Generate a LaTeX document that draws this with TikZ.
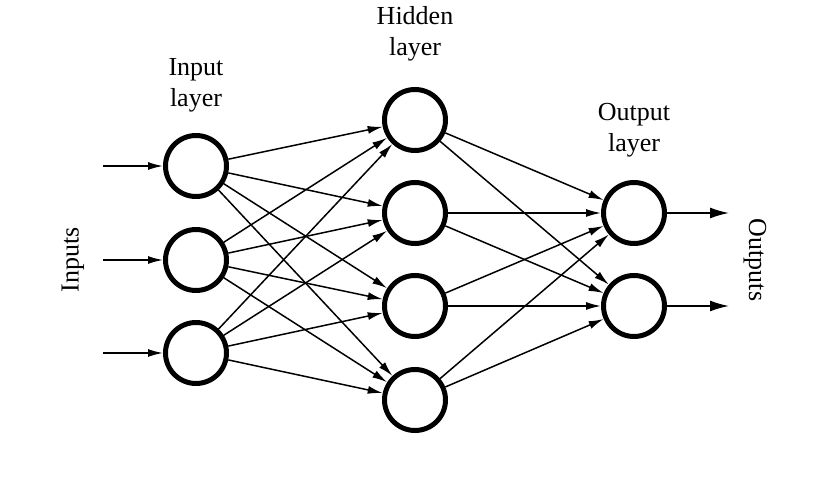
\documentclass[tikz,border=0pt]{standalone}
\usepackage{fontspec}
\setmainfont{Liberation Serif}
\usetikzlibrary{arrows.meta}
\begin{document}
\begin{tikzpicture}[x=1pt,y=1pt,
  neuron/.style={circle,draw,line width=5pt,minimum size=61pt,inner sep=0pt},
  conn/.style={line width=1.5pt,-{Latex[length=15pt,width=8pt]}},
  bigconn/.style={line width=1.6pt,-{Latex[length=19pt,width=11pt]}},
  lbl/.style={font=\fontsize{26}{31}\selectfont,align=center}]
\useasboundingbox (0,0) rectangle (837,476);
\node[neuron] (i1) at (196,310) {};
\node[neuron] (i2) at (196,216) {};
\node[neuron] (i3) at (196,123) {};
\node[neuron] (h1) at (415,356) {};
\node[neuron] (h2) at (415,263) {};
\node[neuron] (h3) at (415,170) {};
\node[neuron] (h4) at (415,76) {};
\node[neuron] (o1) at (634,263) {};
\node[neuron] (o2) at (634,170) {};
\coordinate (a1) at (103,310);
\coordinate (a2) at (103,216);
\coordinate (a3) at (103,123);
\coordinate (b1) at (729,263);
\coordinate (b2) at (729,170);
\draw[conn] (a1) -- (i1);
\draw[conn] (a2) -- (i2);
\draw[conn] (a3) -- (i3);
\foreach \i in {i1,i2,i3}
  \foreach \h in {h1,h2,h3,h4}
    \draw[conn] (\i) -- (\h);
\foreach \h in {h1,h2,h3,h4}
  \foreach \o in {o1,o2}
    \draw[conn] (\h) -- (\o);
\draw[bigconn] (o1) -- (b1);
\draw[bigconn] (o2) -- (b2);
\node[lbl] (il) at (196,391) {Input\\layer};
\node[lbl] (hl) at (415,442) {Hidden\\layer};
\node[lbl] (ol) at (634,346) {Output\\layer};
\node[lbl,rotate=90] (inl) at (73,216) {Inputs};
\node[lbl,rotate=-90] (outl) at (755,216) {Outputs};
\end{tikzpicture}
\end{document}
